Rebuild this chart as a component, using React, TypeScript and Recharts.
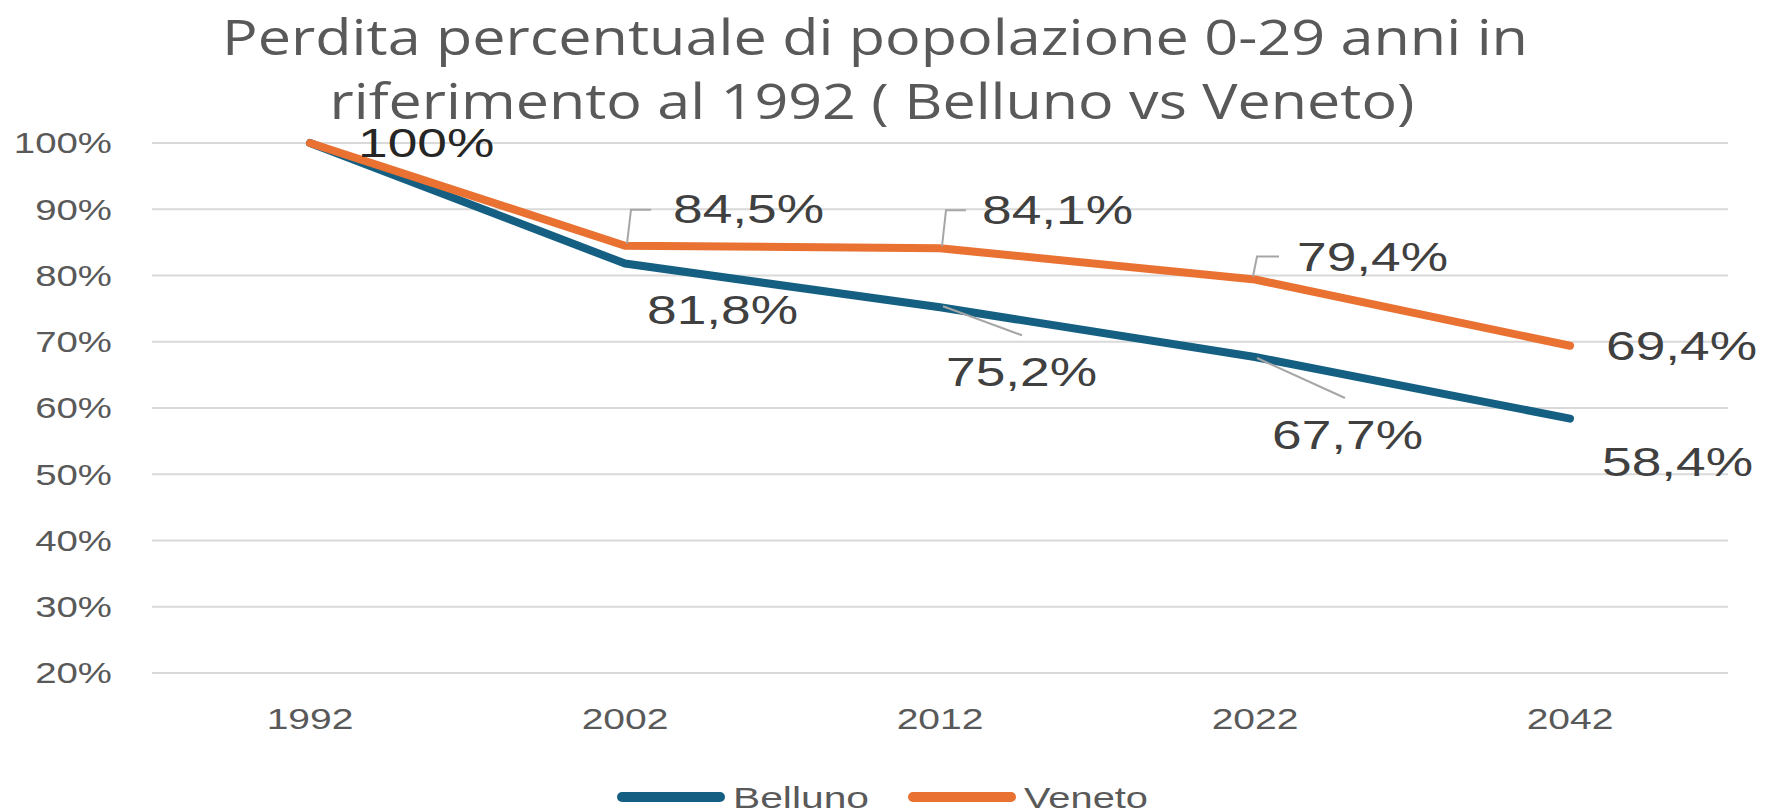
import React from "react";
import { LineChart, Line, XAxis, YAxis, CartesianGrid, Legend, LabelList } from "recharts";

const years = ["1992", "2002", "2012", "2022", "2042"];
const belluno = [100, 81.8, 75.2, 67.7, 58.4];
const veneto = [100, 84.5, 84.1, 79.4, 69.4];
const yTicks = [20, 30, 40, 50, 60, 70, 80, 90, 100];
const titleLines = [
  "Perdita percentuale di popolazione 0-29 anni in",
  "riferimento al 1992 ( Belluno vs Veneto)"
];

const data = years.map((year, i) => ({ year, Belluno: belluno[i], Veneto: veneto[i] }));

const BLUE = "#156082";
const ORANGE = "#E97132";
const TEXT = "#595959";
const LABEL = "#404040";
const LEADER = "#a6a6a6";
const FONT = "Liberation Sans, Arial, sans-serif";

// label placement relative to each point (dx,dy = start of text, leader = polyline points)
// the shared 1992 label is drawn once, by Veneto
const venetoPos = [
  { dx: 48, dy: 0, fill: "#262626" },
  { dx: 48, dy: -37, leader: [[2, -2], [6, -36], [26, -36]] },
  { dx: 42, dy: -39, leader: [[2, -2], [6, -38], [26, -38]] },
  { dx: 42, dy: -23, leader: [[-2, -3], [2, -23], [24, -23]] },
  { dx: 36, dy: 0 }
];
const bellunoPos = [
  null,
  { dx: 22, dy: 46 },
  { dx: 6, dy: 64, leader: [[3, -1], [82, 28]] },
  { dx: 17, dy: 78, leader: [[2, 1], [90, 41]] },
  { dx: 32, dy: 43 }
];

const fmt = (v: number) => (v === 100 ? "100%" : v.toFixed(1).replace(".", ",") + "%");

const makeLabel = (pos: any[]) => (props: any) => {
  const { x, y, value, index } = props;
  const p = pos[index];
  if (!p) return null;
  return (
    <g>
      {p.leader && (
        <polyline
          points={p.leader.map((l: number[]) => `${x + l[0]},${y + l[1]}`).join(" ")}
          fill="none"
          stroke={LEADER}
          strokeWidth={2}
        />
      )}
      <text
        transform={`translate(${x + p.dx},${y + p.dy}) scale(1.3,1)`}
        dominantBaseline="central"
        fontSize={41}
        fontFamily={FONT}
        fill={p.fill || LABEL}
      >
        {fmt(value)}
      </text>
    </g>
  );
};

const YTick = (props: any) => {
  const { x, y, payload } = props;
  return (
    <text
      transform={`translate(${x},${y}) scale(1.28,1)`}
      textAnchor="end"
      dominantBaseline="central"
      fontSize={30}
      fontFamily={FONT}
      fill={TEXT}
    >
      {payload.value}%
    </text>
  );
};

const XTick = (props: any) => {
  const { x, y, payload } = props;
  return (
    <text
      transform={`translate(${x},${y}) scale(1.3,1)`}
      textAnchor="middle"
      dominantBaseline="central"
      fontSize={30}
      fontFamily={FONT}
      fill={TEXT}
    >
      {payload.value}
    </text>
  );
};

const LegendContent = (props: any) => {
  const { payload } = props;
  const items = payload || [];
  const swatch = 108;
  const textW = [136, 124];
  const widths = items.map((_: any, i: number) => swatch + 8 + (textW[i] || 130));
  const total = widths.reduce((a: number, b: number) => a + b, 0) + 39 * (items.length - 1);
  let cx = (1765 - total) / 2;
  return (
    <svg width={1765} height={44} style={{ display: "block" }}>
      {items.map((it: any, i: number) => {
        const x0 = cx;
        cx += widths[i] + 39;
        return (
          <g key={it.value}>
            <line x1={x0 + 5} x2={x0 + swatch - 5} y1={25} y2={25} stroke={it.color} strokeWidth={10} strokeLinecap="round" />
            <text
              x={x0 + swatch + 8}
              y={25}
              dominantBaseline="central"
              fontSize={30}
              fontFamily={FONT}
              fill={TEXT}
              textLength={textW[i]}
              lengthAdjust="spacingAndGlyphs"
            >
              {it.value}
            </text>
          </g>
        );
      })}
    </svg>
  );
};

export default function App() {
  return (
    <div style={{ position: "absolute", left: 0, top: 0, width: 1765, height: 812, background: "#fff" }}>
      <LineChart width={1765} height={812} data={data} margin={{ top: 143, right: 37, left: 0, bottom: -4 }}>
        <CartesianGrid vertical={false} stroke="#d9d9d9" strokeWidth={2} />
        <XAxis
          dataKey="year"
          axisLine={false}
          tickLine={false}
          tickSize={0}
          tickMargin={46}
          height={99}
          padding={{ left: 158, right: 158 }}
          tick={<XTick />}
          interval={0}
        />
        <YAxis
          domain={[20, 100]}
          ticks={yTicks}
          axisLine={false}
          tickLine={false}
          tickSize={0}
          tickMargin={40}
          width={152}
          tick={<YTick />}
          interval={0}
        />
        <Legend verticalAlign="bottom" height={44} content={<LegendContent />} wrapperStyle={{ left: 0, width: 1765, bottom: -4 }} />
        <Line
          dataKey="Belluno"
          stroke={BLUE}
          strokeWidth={8}
          dot={false}
          strokeLinecap="round"
          strokeLinejoin="round"
          isAnimationActive={false}
        >
          <LabelList dataKey="Belluno" content={makeLabel(bellunoPos)} />
        </Line>
        <Line
          dataKey="Veneto"
          stroke={ORANGE}
          strokeWidth={8}
          dot={false}
          strokeLinecap="round"
          strokeLinejoin="round"
          isAnimationActive={false}
        >
          <LabelList dataKey="Veneto" content={makeLabel(venetoPos)} />
        </Line>
      </LineChart>
      <svg width={1765} height={140} style={{ position: "absolute", left: 0, top: 0, pointerEvents: "none" }}>
        <text
          x={875}
          y={55}
          textAnchor="middle"
          fontSize={50}
          fontFamily="Open Sans, Noto Sans, sans-serif"
          fill={TEXT}
          textLength={1306}
          lengthAdjust="spacingAndGlyphs"
        >
          {titleLines[0]}
        </text>
        <text
          x={872}
          y={119}
          textAnchor="middle"
          fontSize={50}
          fontFamily="Open Sans, Noto Sans, sans-serif"
          fill={TEXT}
          textLength={1085}
          lengthAdjust="spacingAndGlyphs"
        >
          {titleLines[1]}
        </text>
      </svg>
    </div>
  );
}
